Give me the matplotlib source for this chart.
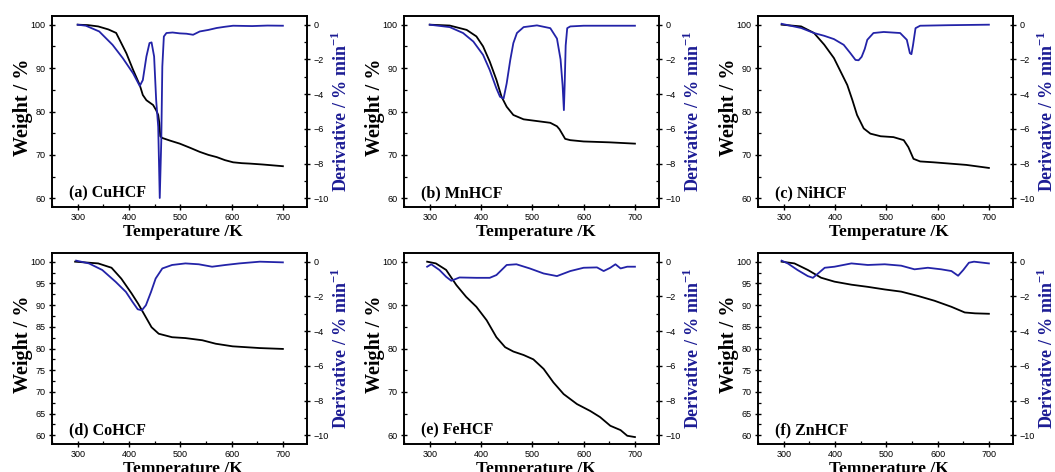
import numpy as np
import matplotlib
matplotlib.use('Agg')
import matplotlib.pyplot as plt
from matplotlib.ticker import MultipleLocator

plt.rcParams['mathtext.fontset'] = 'custom'
plt.rcParams['mathtext.rm'] = 'Liberation Serif'
plt.rcParams['mathtext.bf'] = 'Liberation Serif:bold'

# TGA (weight) and DTG (derivative) curves for each hexacyanoferrate
cu_wT = [300, 320, 340, 360, 375, 395, 408, 421, 427, 434, 447, 453, 457, 459, 461, 465, 480, 499, 520, 538, 555, 571, 587, 603, 620, 636, 660, 680, 700]
cu_w = [100, 99.9, 99.6, 98.9, 98.1, 93.4, 89.6, 86.1, 83.8, 82.6, 81.5, 80.3, 79.2, 77.5, 74.3, 73.9, 73.3, 72.6, 71.6, 70.7, 70.0, 69.5, 68.8, 68.3, 68.1, 68.0, 67.8, 67.6, 67.4]
cu_dT = [300, 316, 342, 368, 388, 408, 421, 427, 434, 440, 444, 449, 453, 457, 460, 463, 465, 468, 473, 485, 499, 512, 525, 538, 555, 571, 587, 603, 640, 670, 700]
cu_d = [0, -0.06, -0.39, -1.16, -1.93, -2.80, -3.53, -3.19, -1.83, -1.06, -1.02, -1.83, -4.34, -5.89, -9.98, -6.66, -2.41, -0.68, -0.48, -0.45, -0.50, -0.52, -0.58, -0.39, -0.30, -0.19, -0.12, -0.06, -0.08, -0.05, -0.06]

mn_wT = [300, 339, 372, 391, 404, 417, 430, 440, 450, 463, 483, 509, 535, 548, 553, 558, 564, 574, 600, 650, 700]
mn_w = [100, 99.8, 98.8, 97.3, 95.0, 91.5, 87.3, 83.4, 81.1, 79.2, 78.2, 77.8, 77.4, 76.6, 75.9, 74.9, 73.7, 73.4, 73.1, 72.9, 72.6]
mn_dT = [300, 339, 365, 385, 404, 417, 430, 437, 444, 450, 457, 463, 470, 483, 509, 535, 548, 555, 559, 561.5, 563, 565, 568, 574, 600, 700]
mn_d = [0, -0.14, -0.48, -0.97, -1.74, -2.61, -3.67, -4.15, -4.25, -3.38, -2.03, -1.06, -0.48, -0.14, -0.04, -0.20, -0.80, -2.0, -3.5, -4.92, -3.5, -1.2, -0.20, -0.10, -0.06, -0.06]

ni_wT = [296, 334, 359, 379, 398, 411, 424, 434, 443, 456, 469, 489, 514, 534, 543, 553, 566, 592, 656, 700]
ni_w = [100, 99.6, 98.1, 95.4, 92.3, 89.2, 86.1, 82.6, 79.2, 76.1, 74.9, 74.3, 74.1, 73.4, 71.8, 69.1, 68.5, 68.3, 67.7, 67.0]
ni_dT = [296, 334, 359, 379, 398, 417, 430, 440, 446, 452, 458, 463, 475, 495, 527, 540, 546, 549, 552, 557, 566, 620, 700]
ni_d = [0.05, -0.19, -0.48, -0.64, -0.83, -1.16, -1.64, -2.03, -2.05, -1.85, -1.40, -0.87, -0.48, -0.42, -0.48, -0.87, -1.64, -1.70, -1.20, -0.20, -0.06, -0.03, 0]

co_wT = [295, 340, 366, 385, 405, 418, 431, 444, 458, 484, 510, 543, 569, 602, 655, 700]
co_w = [100, 99.6, 98.6, 96.1, 92.7, 90.3, 87.6, 84.9, 83.4, 82.6, 82.4, 81.9, 81.1, 80.5, 80.1, 79.9]
co_dT = [297, 322, 348, 374, 394, 407, 417, 425, 433, 443, 452, 465, 484, 510, 536, 562, 588, 615, 655, 700]
co_d = [0.06, -0.10, -0.48, -1.16, -1.74, -2.32, -2.74, -2.80, -2.51, -1.74, -0.97, -0.39, -0.19, -0.10, -0.15, -0.29, -0.19, -0.10, 0, -0.04]

fe_wT = [295, 312, 332, 352, 371, 391, 411, 430, 447, 463, 483, 502, 522, 541, 561, 587, 613, 632, 652, 672, 685, 700]
fe_w = [100, 99.6, 98.1, 94.6, 91.9, 89.6, 86.5, 82.6, 80.3, 79.3, 78.5, 77.5, 75.3, 72.2, 69.5, 67.2, 65.6, 64.2, 62.2, 61.2, 59.9, 59.6]
fe_dT = [295, 303, 319, 332, 342, 358, 391, 417, 430, 450, 469, 495, 522, 548, 574, 600, 626, 639, 652, 662, 672, 685, 700]
fe_d = [-0.29, -0.15, -0.48, -0.87, -1.10, -0.91, -0.93, -0.93, -0.77, -0.19, -0.15, -0.39, -0.68, -0.83, -0.54, -0.35, -0.33, -0.54, -0.35, -0.15, -0.39, -0.29, -0.29]

zn_wT = [296, 321, 347, 373, 399, 432, 464, 497, 529, 562, 594, 627, 653, 673, 700]
zn_w = [100, 99.6, 98.1, 96.3, 95.4, 94.7, 94.2, 93.6, 93.1, 92.1, 91.0, 89.6, 88.3, 88.1, 88.0]
zn_dT = [296, 308, 327, 347, 357, 367, 380, 399, 432, 464, 497, 529, 555, 581, 607, 627, 640, 650, 661, 671, 700]
zn_d = [0.06, -0.10, -0.48, -0.83, -0.93, -0.68, -0.35, -0.29, -0.10, -0.19, -0.15, -0.23, -0.44, -0.35, -0.44, -0.54, -0.81, -0.48, -0.06, 0, -0.10]

names = ['(a) CuHCF', '(b) MnHCF', '(c) NiHCF', '(d) CoHCF', '(e) FeHCF', '(f) ZnHCF']
weights = [(cu_wT, cu_w), (mn_wT, mn_w), (ni_wT, ni_w), (co_wT, co_w), (fe_wT, fe_w), (zn_wT, zn_w)]
derivs = [(cu_dT, cu_d), (mn_dT, mn_d), (ni_dT, ni_d), (co_dT, co_d), (fe_dT, fe_d), (zn_dT, zn_d)]
w_steps = [10, 10, 10, 5, 10, 5]

blue = '#2323a8'
navy = '#1c1c94'
serif = 'Liberation Serif'

fig = plt.figure(figsize=(10.55, 4.72), dpi=100)
lefts = [0.0493, 0.383, 0.7185]
bottoms = [0.5614, 0.0593]
w, h = 0.2417, 0.4047

for i in range(6):
    ax = fig.add_axes([lefts[i % 3], bottoms[i // 3], w, h])
    ax2 = ax.twinx()
    ax.plot(weights[i][0], weights[i][1], color='black', lw=1.3)
    ax2.plot(derivs[i][0], derivs[i][1], color=blue, lw=1.3)

    ax.set_xlim(250, 747)
    ax.set_ylim(58, 102)
    ax2.set_ylim(-10.5, 0.5)
    ax.xaxis.set_major_locator(MultipleLocator(100))
    ax.xaxis.set_minor_locator(MultipleLocator(50))
    ax.yaxis.set_major_locator(MultipleLocator(w_steps[i]))
    ax.yaxis.set_minor_locator(MultipleLocator(w_steps[i] / 2))
    ax2.yaxis.set_major_locator(MultipleLocator(2))
    ax2.yaxis.set_minor_locator(MultipleLocator(1))

    for a in (ax, ax2):
        a.tick_params(which='major', direction='inout', length=5, width=1,
                      labelsize=6.5, pad=2)
        a.tick_params(which='minor', direction='in', length=2.5, width=0.9)
        for sp in a.spines.values():
            sp.set_linewidth(1.2)
        for lab in a.get_xticklabels() + a.get_yticklabels():
            lab.set_family('Liberation Sans')
    ax.tick_params(top=False, right=False)

    ax.set_ylabel('Weight / %', fontsize=14.5, fontweight='bold', family=serif)
    ax.yaxis.set_label_coords(-0.075, 0.52)
    ax2.set_ylabel(r'Derivative / % min$^{\mathbf{-1}}$', fontsize=13,
                   fontweight='bold', family=serif, color=navy, rotation=90)
    ax2.yaxis.set_label_coords(1.095, 0.5)
    ax.set_xlabel('Temperature /K', fontsize=12.5, fontweight='bold', family=serif)
    ax.xaxis.set_label_coords(0.515, -0.09)

    ax.text(0.065, 0.05, names[i], transform=ax.transAxes, fontsize=11.5,
            fontweight='bold', family=serif)

fig.savefig('out.png', dpi=100)
